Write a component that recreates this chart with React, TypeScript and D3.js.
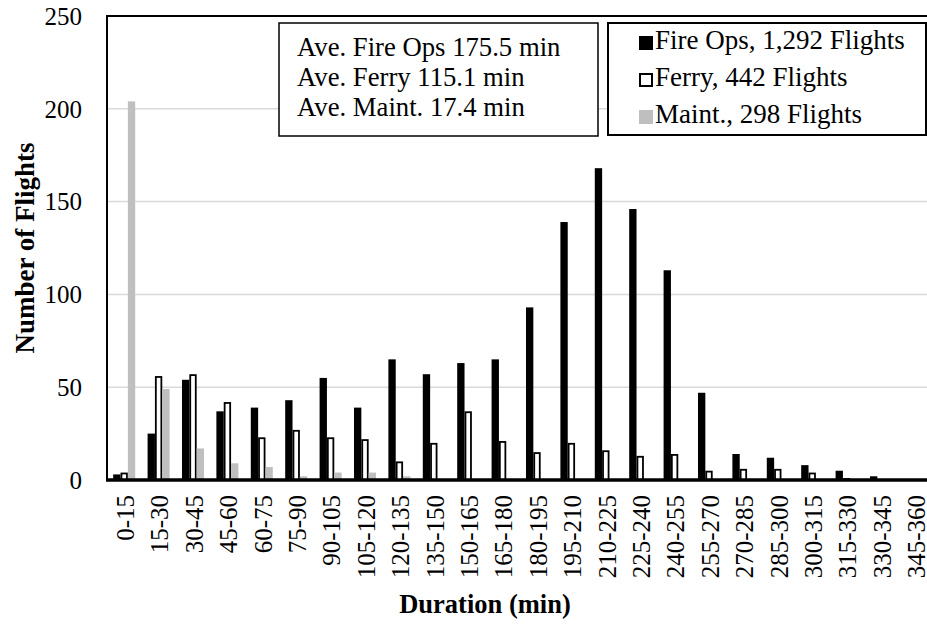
import React from "react";
import * as d3 from "d3";

const categories = ["0-15","15-30","30-45","45-60","60-75","75-90","90-105","105-120","120-135","135-150","150-165","165-180","180-195","195-210","210-225","225-240","240-255","255-270","270-285","285-300","300-315","315-330","330-345","345-360"];
const fireOps = [3,25,54,37,39,43,55,39,65,57,63,65,93,139,168,146,113,47,14,12,8,5,2,0];
const ferry = [4,56,57,42,23,27,23,22,10,20,37,21,15,20,16,13,14,5,6,6,4,1,0,0];
const maint = [204,49,17,9,7,2,4,4,2,0,0,0,0,0,0,0,0,0,0,0,0,0,0,0];
const yTicks = [0,50,100,150,200,250];
const gridTicks = [50,100,150,200];
const statsLines = ["Ave. Fire Ops 175.5 min","Ave. Ferry 115.1 min","Ave. Maint. 17.4 min"];
const legendItems = [
  { label: "Fire Ops, 1,292 Flights", fill: "#000000", stroke: "#000000" },
  { label: "Ferry, 442 Flights", fill: "#ffffff", stroke: "#000000" },
  { label: "Maint., 298 Flights", fill: "#bfbfbf", stroke: "none" },
];
const seriesList = [
  { key: "fire", values: fireOps, fill: "#000000", stroke: "#000000" },
  { key: "ferry", values: ferry, fill: "#ffffff", stroke: "#000000" },
  { key: "maint", values: maint, fill: "#bfbfbf", stroke: "none" },
];

const W = 927, H = 624;
const L = 107, T = 16, B = 480;
const step = 34.4;
const R = L + step * categories.length;
const TS = { fontFamily: "'Liberation Serif', 'Times New Roman', serif" };

export default function App() {
  const x = d3.scaleBand<string>().domain(categories).range([L, R]).paddingInner(0.36).paddingOuter(0.18);
  const sub = d3.scaleBand<string>().domain(seriesList.map(s => s.key)).range([0, x.bandwidth()]);
  const y = d3.scaleLinear().domain([0, 250]).range([B, T]);

  return (
    <svg width={W} height={H} style={{ position: "absolute", left: 0, top: 0, background: "#fff" }}>
      <rect x={0} y={0} width={W} height={H} fill="#fff" />
      {gridTicks.map(t => (
        <line key={t} x1={L} x2={R} y1={y(t)} y2={y(t)} stroke="#d9d9d9" strokeWidth={1.5} />
      ))}
      {seriesList.map(s => (
        <g key={s.key}>
          {s.values.map((v, i) => {
            if (v <= 0) return null;
            const x0 = (x(categories[i]) as number) + (sub(s.key) as number);
            const w = sub.bandwidth();
            const y0 = y(v);
            if (s.stroke === "none") {
              return <rect key={i} x={x0} y={y0} width={w} height={B - y0} fill={s.fill} />;
            }
            return (
              <rect key={i} x={x0 + 0.9} y={y0 + 0.9} width={w - 1.8} height={Math.max(0, B - y0 - 0.9)} fill={s.fill} stroke={s.stroke} strokeWidth={1.8} />
            );
          })}
        </g>
      ))}
      <rect x={L} y={T} width={R - L} height={B - T} fill="none" stroke="#000" strokeWidth={2} />
      <line x1={L - 1} x2={R} y1={B} y2={B} stroke="#000" strokeWidth={3.5} />
      {yTicks.map(t => (
        <text key={t} x={82} y={y(t)} dy="0.35em" textAnchor="end" fontSize={25} fill="#000" style={TS}>{t}</text>
      ))}
      {categories.map(c => (
        <text key={c} transform={`translate(${(x(c) as number) + x.bandwidth() / 2 + 1},495) rotate(-90)`} dy="0.35em" textAnchor="end" fontSize={25} fill="#000" style={TS}>{c}</text>
      ))}
      <text transform="translate(34,248) rotate(-90)" textAnchor="middle" fontSize={27} fontWeight="bold" fill="#000" style={TS}>Number of Flights</text>
      <text x={485} y={613} textAnchor="middle" fontSize={26.5} fontWeight="bold" fill="#000" style={TS}>Duration (min)</text>

      <rect x={279} y={23} width={319} height={113} fill="#fff" stroke="#000" strokeWidth={1.5} />
      {statsLines.map((s, i) => (
        <text key={s} x={297} y={56 + i * 30} fontSize={26.7} fill="#000" style={TS}>{s}</text>
      ))}

      <rect x={608} y={23} width={318} height={112} fill="#fff" stroke="#000" strokeWidth={2} />
      {legendItems.map((it, i) => (
        <g key={it.label}>
          {it.stroke === "none" ? (
            <rect x={639} y={36 + i * 37} width={14} height={14} fill={it.fill} />
          ) : (
            <rect x={640} y={37 + i * 37} width={12} height={12} fill={it.fill} stroke={it.stroke} strokeWidth={2} />
          )}
          <text x={655} y={49 + i * 37} fontSize={27} fill="#000" style={TS}>{it.label}</text>
        </g>
      ))}
    </svg>
  );
}
